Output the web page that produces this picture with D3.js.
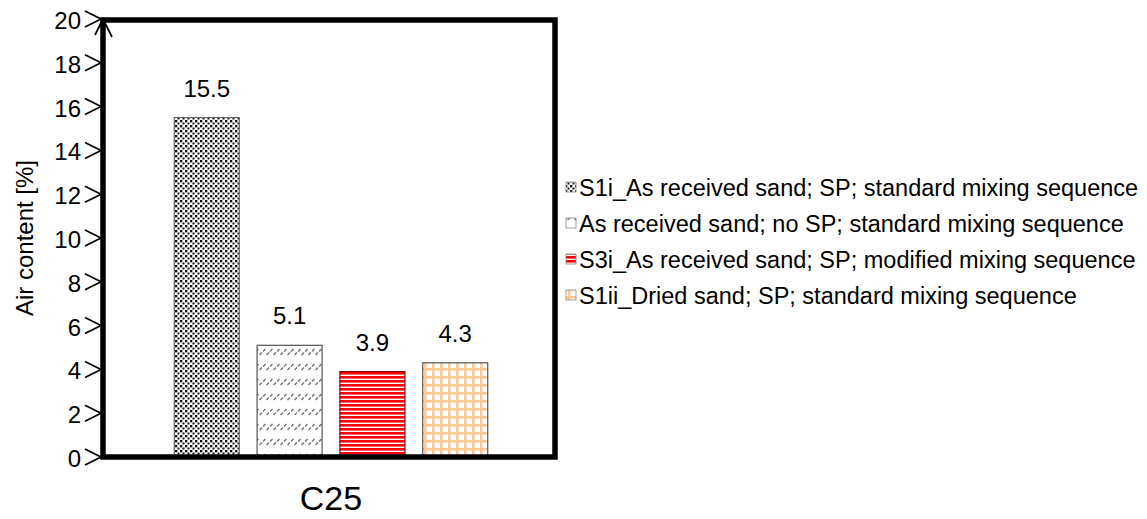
<!DOCTYPE html>
<html><head><meta charset="utf-8">
<script src="https://cdn.jsdelivr.net/npm/d3@7"></script>
<style>body{margin:0;background:#fff;}svg{font-family:Arial,"Liberation Sans",sans-serif;}</style>
</head><body>
<svg id="c" width="1147" height="519"></svg>
<script>
const categories = ["S1i_As received sand; SP; standard mixing sequence","As received sand; no SP; standard mixing sequence","S3i_As received sand; SP; modified mixing sequence","S1ii_Dried sand; SP; standard mixing sequence"];
const values = [15.5, 5.1, 3.9, 4.3];
const valueLabels = ["15.5","5.1","3.9","4.3"];
const yTicks = [0,2,4,6,8,10,12,14,16,18,20];
const groupLabel = "C25";
const yTitle = "Air content [%]";

const svg = d3.select("#c");
const defs = svg.append("defs");
// patterns
const p1 = defs.append("pattern").attr("id","p1").attr("width",5).attr("height",5).attr("patternUnits","userSpaceOnUse");
p1.append("rect").attr("width",5).attr("height",5).attr("fill","#fff");
p1.append("rect").attr("x",0).attr("y",0).attr("width",2).attr("height",2).attr("fill","#111");
p1.append("rect").attr("x",2.5).attr("y",2.5).attr("width",2).attr("height",2).attr("fill","#111");
p1.append("rect").attr("x",2).attr("y",0.5).attr("width",1).attr("height",1).attr("fill","#666");
p1.append("rect").attr("x",0.5).attr("y",2).attr("width",1).attr("height",1).attr("fill","#666");
const p2 = defs.append("pattern").attr("id","p2").attr("width",7).attr("height",15).attr("patternUnits","userSpaceOnUse");
p2.append("rect").attr("width",7).attr("height",15).attr("fill","#fff");
p2.append("line").attr("x1",0.5).attr("y1",10).attr("x2",6.5).attr("y2",4).attr("stroke","#777").attr("stroke-width",1.5).attr("stroke-dasharray","3.5,1.5");
const p3 = defs.append("pattern").attr("id","p3").attr("width",8).attr("height",4).attr("patternUnits","userSpaceOnUse");
p3.append("rect").attr("width",8).attr("height",4).attr("fill","#fff");
p3.append("rect").attr("y",0).attr("width",8).attr("height",2.6).attr("fill","#f00");
const p4 = defs.append("pattern").attr("id","p4").attr("width",8).attr("height",8).attr("patternUnits","userSpaceOnUse");
p4.append("rect").attr("width",8).attr("height",8).attr("fill","#fff");
p4.append("rect").attr("x",0).attr("width",2.5).attr("height",8).attr("fill","#ffc794");
p4.append("rect").attr("y",0).attr("width",8).attr("height",2.5).attr("fill","#ffc794");
const fills = ["url(#p1)","url(#p2)","url(#p3)","url(#p4)"];
const strokes = ["#666","#555","#800","#555"];

const L = 103, R = 555, T = 19, B = 457;
const y = d3.scaleLinear().domain([0,20]).range([B,T]);
const x = d3.scaleBand().domain(categories).range([166,496]).paddingInner(0.215).paddingOuter(0.1);

// bars
svg.selectAll("rect.bar").data(values).enter().append("rect").attr("class","bar")
  .attr("x",(d,i)=>x(categories[i])).attr("width",x.bandwidth())
  .attr("y",d=>y(d)).attr("height",d=>B-y(d))
  .attr("fill",(d,i)=>fills[i]).attr("stroke",(d,i)=>strokes[i]).attr("stroke-width",1.2);
svg.selectAll("text.vl").data(values).enter().append("text").attr("class","vl")
  .attr("x",(d,i)=>x(categories[i])+x.bandwidth()/2).attr("y",d=>y(d)-21)
  .attr("text-anchor","middle").attr("font-size",24).text((d,i)=>valueLabels[i]);

// frame
svg.append("rect").attr("x",L).attr("y",T+1).attr("width",R-L).attr("height",B-T-1)
  .attr("fill","none").attr("stroke","#000").attr("stroke-width",5.5);

// y axis chevron ticks
const ax = svg.append("g");
yTicks.forEach(t=>{
  const yy = y(t);
  ax.append("path").attr("d",`M${L-18},${yy-8} L${L-2},${yy} L${L-18},${yy+8}`)
    .attr("fill","none").attr("stroke","#000").attr("stroke-width",1.7);
  ax.append("text").attr("x",L-22).attr("y",yy+10).attr("text-anchor","end").attr("font-size",24).text(t);
});
// arrow head at top
ax.append("path").attr("d",`M${L-8},${T+16} L${L},${T} L${L+9},${T+18}`).attr("fill","none").attr("stroke","#000").attr("stroke-width",1.7);

svg.append("text").attr("transform",`translate(33,${(T+B)/2}) rotate(-90)`).attr("text-anchor","middle").attr("font-size",24).text(yTitle);
svg.append("text").attr("x",331).attr("y",510).attr("text-anchor","middle").attr("font-size",34).text(groupLabel);

// legend
const lg = svg.append("g");
categories.forEach((c,i)=>{
  const yy = 187 + i*36;
  lg.append("rect").attr("x",566).attr("y",yy-5).attr("width",10).attr("height",10).attr("fill",fills[i]).attr("stroke","#888").attr("stroke-width",0.8);
  lg.append("text").attr("x",579).attr("y",yy+9).attr("font-size",23.5).text(c);
});
</script>
</body></html>
